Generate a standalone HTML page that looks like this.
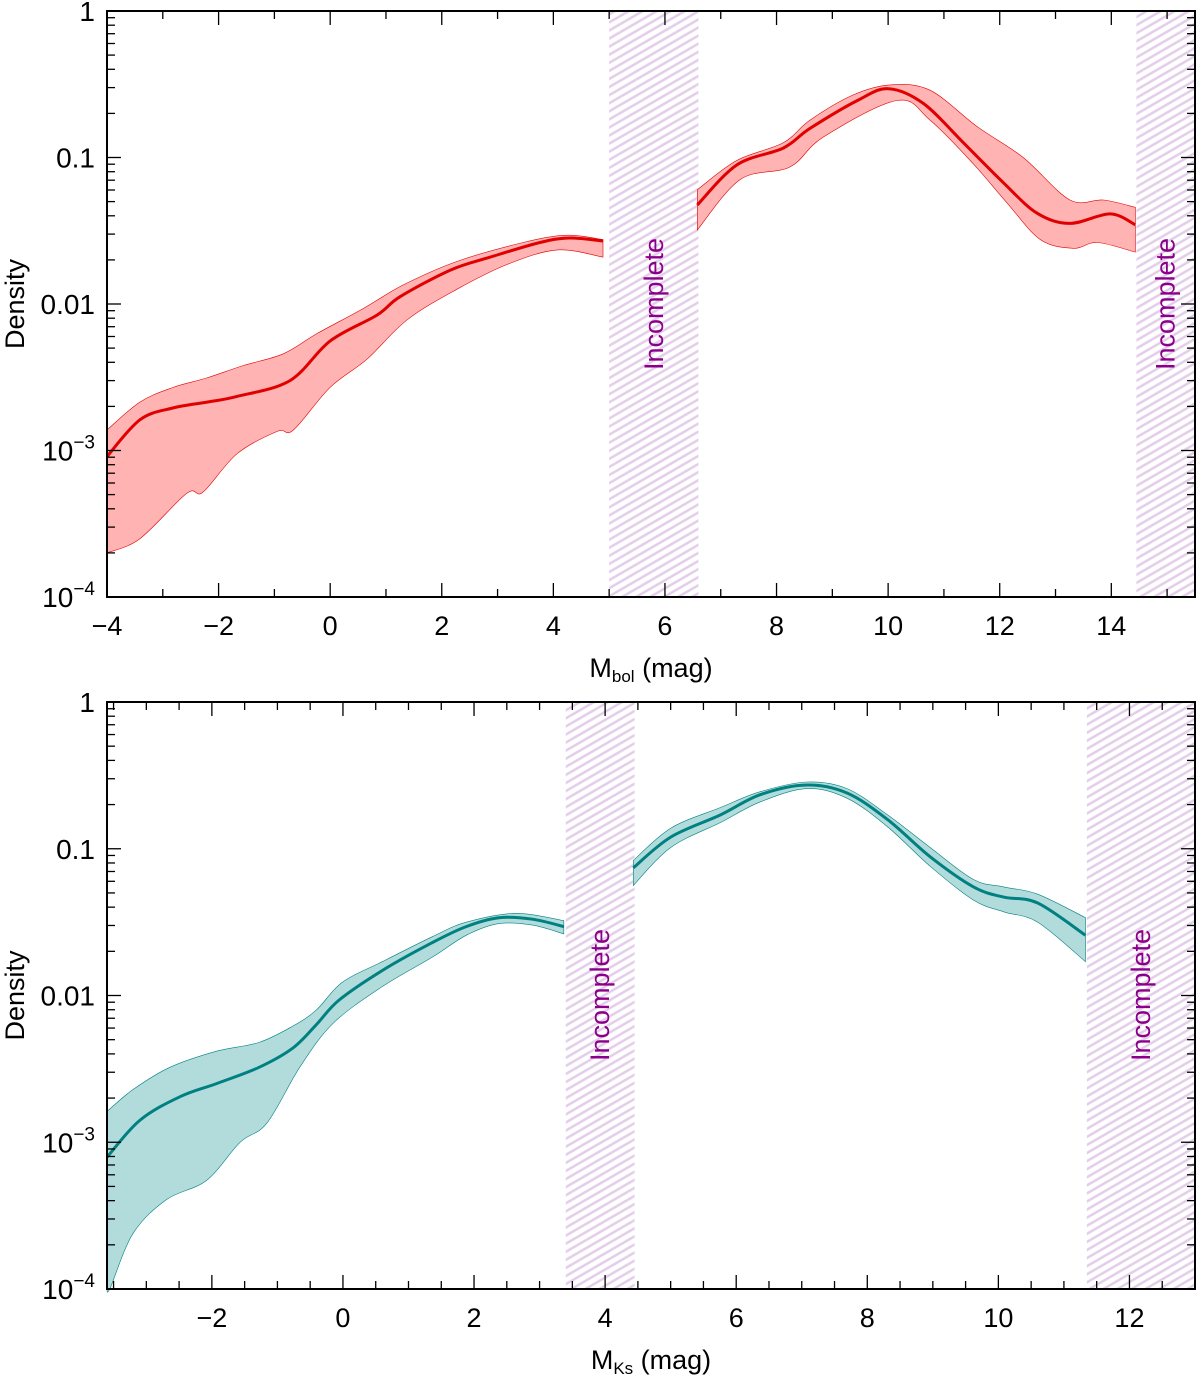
<!DOCTYPE html>
<html><head><meta charset="utf-8"><style>
html,body{margin:0;padding:0;background:#fff;}
svg{display:block;font-family:"Liberation Sans",sans-serif;}
</style></head><body>
<svg id="chart" width="1200" height="1378" viewBox="0 0 1200 1378" xmlns="http://www.w3.org/2000/svg">
<defs>
<pattern id="hatch" patternUnits="userSpaceOnUse" width="7" height="7" patternTransform="rotate(-30)">
<rect width="7" height="7" fill="#fff"/>
<line x1="0" y1="2" x2="7" y2="2" stroke="#e3cdea" stroke-width="2.5"/>
</pattern>
</defs>
</svg>
<script>
// ---------- Top panel data (M_bol) ----------
const topMedX1 = [-4,-3.41,-2.82,-2.21,-1.67,-0.72,0,0.84,1.25,2.15,2.87,3.76,4.3,4.89];
const topMedY1 = [9.1e-4,1.62e-3,1.95e-3,2.14e-3,2.34e-3,3.0e-3,5.6e-3,8.4e-3,0.0112,0.017,0.0209,0.0263,0.0282,0.0269];
const topUpX1 = [-4,-3.41,-2.82,-2.21,-1.56,-0.84,-0.23,0.59,1.31,2.27,3.46,4.25,4.89];
const topUpY1 = [1.38e-3,2.14e-3,2.69e-3,3.13e-3,3.8e-3,4.57e-3,6.3e-3,9.3e-3,0.0135,0.0195,0.0263,0.0295,0.0275];
const topLoX1 = [-4,-3.41,-2.57,-2.28,-1.67,-0.95,-0.66,0,0.66,1.38,2.27,3.17,4.07,4.89];
const topLoY1 = [2.0e-4,2.5e-4,5.1e-4,5.2e-4,9.5e-4,1.35e-3,1.38e-3,2.7e-3,4.2e-3,7.8e-3,0.0126,0.0186,0.0234,0.0209];
const topMedX2 = [6.58,7.29,8.12,8.6,9.45,10.0,10.63,11.35,12.06,12.67,13.26,13.98,14.43];
const topMedY2 = [0.0474,0.089,0.116,0.158,0.245,0.295,0.234,0.126,0.0676,0.0417,0.0355,0.0412,0.0347];
const topUpX2 = [6.58,7.29,8.12,8.6,9.37,10.04,10.75,11.6,12.42,13.26,13.86,14.43];
const topUpY2 = [0.0603,0.0955,0.126,0.18,0.267,0.313,0.288,0.162,0.1,0.0513,0.0513,0.0457];
const topLoX2 = [6.58,7.35,8.24,8.84,10.16,10.75,11.52,12.13,12.73,13.32,13.75,14.43];
const topLoY2 = [0.032,0.0708,0.0861,0.138,0.245,0.18,0.0912,0.049,0.0275,0.024,0.0263,0.0226];
const topIncomplete = [[5.0,6.6],[14.45,15.5]];
const topXTicks = [-4,-2,0,2,4,6,8,10,12,14];
// ---------- Bottom panel data (M_Ks) ----------
const botMedX1 = [-3.6,-3.1,-2.49,-1.93,-1.28,-0.77,-0.41,-0.06,0.6,1.36,1.88,2.38,2.89,3.37];
const botMedY1 = [7.9e-4,1.41e-3,2.04e-3,2.51e-3,3.24e-3,4.37e-3,6.3e-3,9.3e-3,0.0148,0.0229,0.0295,0.0339,0.0331,0.0295];
const botUpX1 = [-3.6,-3.2,-2.64,-1.93,-1.28,-0.77,-0.41,-0.01,0.6,1.36,1.88,2.64,3.37];
const botUpY1 = [1.62e-3,2.29e-3,3.24e-3,4.17e-3,4.79e-3,6.17e-3,7.94e-3,0.0123,0.017,0.0251,0.0316,0.0363,0.0324];
const botLoX1 = [-3.6,-3.55,-3.2,-2.69,-2.08,-1.57,-1.16,-0.66,-0.15,0.6,1.36,1.88,2.38,2.89,3.37];
const botLoY1 = [1.0e-4,1.02e-4,2.4e-4,4.07e-4,5.5e-4,1.0e-3,1.35e-3,3.24e-3,6.46e-3,0.0115,0.0182,0.0257,0.0309,0.0302,0.0263];
const botX2 = [4.43,5.0,5.76,6.37,7.08,7.69,8.31,8.96,9.62,10.08,10.6,11.33];
const botMedY2 = [0.0741,0.12,0.17,0.234,0.272,0.24,0.158,0.0881,0.055,0.0468,0.0427,0.0257];
const botUpY2 = [0.0832,0.138,0.191,0.245,0.285,0.257,0.17,0.102,0.0617,0.055,0.049,0.0339];
const botLoY2 = [0.0562,0.102,0.151,0.209,0.257,0.221,0.141,0.0759,0.0447,0.0372,0.0316,0.017];
const botIncomplete = [[3.4,4.45],[11.35,13.0]];
const botXTicks = [-2,0,2,4,6,8,10,12];
const yTickExps = [0,-1,-2,-3,-4];

const NS = "http://www.w3.org/2000/svg";
const svg = document.getElementById('chart');
function mk(tag, attrs, parent){
  const e = document.createElementNS(NS, tag);
  for (const k in attrs) e.setAttribute(k, attrs[k]);
  (parent||svg).appendChild(e);
  return e;
}
function smoothPath(pts, move){
  let d = (move?'M':'L') + pts[0][0].toFixed(1)+','+pts[0][1].toFixed(1);
  for (let i=0;i<pts.length-1;i++){
    const p0=pts[Math.max(0,i-1)], p1=pts[i], p2=pts[i+1], p3=pts[Math.min(pts.length-1,i+2)];
    const c1=[p1[0]+(p2[0]-p0[0])/6, p1[1]+(p2[1]-p0[1])/6];
    const c2=[p2[0]-(p3[0]-p1[0])/6, p2[1]-(p3[1]-p1[1])/6];
    d += 'C'+c1[0].toFixed(1)+','+c1[1].toFixed(1)+' '+c2[0].toFixed(1)+','+c2[1].toFixed(1)+' '+p2[0].toFixed(1)+','+p2[1].toFixed(1);
  }
  return d;
}

function panel(cfg){
  const L=107, R=1195, T=cfg.top, B=cfg.bottom;
  const sx = v => L + (v - cfg.xmin)/(cfg.xmax - cfg.xmin)*(R-L);
  const sy = v => T + (-Math.log10(v))/4*(B-T);
  const g = mk('g',{});
  
  
  cfg.incomplete.forEach((r,i)=>{
    const x0=sx(r[0]), x1=Math.min(sx(r[1]),R);
    const rc = mk('rect',{x:x0,y:T,width:x1-x0,height:B-T,fill:'url(#hatch)'},g);
    
    
    const cx=(x0+x1)/2, cy=cfg.textY;
    const t = mk('text',{x:cx,y:cy,transform:'rotate(-90 '+cx+' '+cy+')','text-anchor':'middle','dominant-baseline':'central','font-size':27,fill:'#8b008b'},g);
    t.textContent='Incomplete';
    
    
  });
  cfg.segments.forEach((s,i)=>{
    const up = s.upX.map((x,j)=>[sx(x),sy(s.upY[j])]);
    const lo = s.loX.map((x,j)=>[sx(x),sy(s.loY[j])]).reverse();
    const band = mk('path',{d:smoothPath(up,true)+smoothPath(lo,false)+'Z',fill:cfg.fill,stroke:cfg.color,'stroke-width':0.6},g);
    
    
    const med = s.medX.map((x,j)=>[sx(x),sy(s.medY[j])]);
    const ln = mk('path',{d:smoothPath(med,true),fill:'none',stroke:cfg.color,'stroke-width':3},g);
    
    
  });
  const fr = mk('rect',{x:L,y:T,width:R-L,height:B-T,fill:'none',stroke:'#000','stroke-width':2},g);
  
  
  for (let v=Math.ceil(cfg.xmin/cfg.minorStep)*cfg.minorStep; v<=cfg.xmax+1e-9; v+=cfg.minorStep){
    const major = Math.abs(v/2 - Math.round(v/2))<1e-6;
    const len = major?14:8, x=sx(v);
    mk('line',{x1:x,y1:B,x2:x,y2:B-len,stroke:'#000','stroke-width':1.3},g);
    mk('line',{x1:x,y1:T,x2:x,y2:T+len,stroke:'#000','stroke-width':1.3},g);
  }
  cfg.xTicks.forEach(v=>{
    const t = mk('text',{x:sx(v),y:B+38,'text-anchor':'middle','font-size':27,fill:'#000'},g);
    t.textContent = v<0 ? '\u2212'+(-v) : String(v);
    
    
  });
  for (let e=-4;e<0;e++){
    for (let m=1;m<10;m++){
      const y=sy(m*Math.pow(10,e)); const len = m===1?14:8;
      mk('line',{x1:L,y1:y,x2:L+len,y2:y,stroke:'#000','stroke-width':1.3},g);
      mk('line',{x1:R,y1:y,x2:R-len,y2:y,stroke:'#000','stroke-width':1.3},g);
    }
  }
  yTickExps.forEach(e=>{
    const y=sy(Math.pow(10,e));
    const t = mk('text',{x:L-12,y:y+10,'text-anchor':'end','font-size':28,fill:'#000'},g);
    if (e>=-2) t.textContent = e===0?'1':(e===-1?'0.1':'0.01');
    else {
      const a = mk('tspan',{},t); a.textContent='10';
      const b = mk('tspan',{dy:-12,'font-size':19},t); b.textContent='\u2212'+(-e);
    }
    
    
  });
  const yt = mk('text',{x:24,y:(T+B)/2,transform:'rotate(-90 24 '+((T+B)/2)+')','text-anchor':'middle','font-size':27,fill:'#000'},g);
  yt.textContent='Density';
  
  
  const xt = mk('text',{x:651,y:B+80,'text-anchor':'middle','font-size':27,fill:'#000'},g);
  const t1=mk('tspan',{},xt); t1.textContent='M';
  const t2=mk('tspan',{'font-size':17,dy:5},xt); t2.textContent=cfg.sub;
  const t3=mk('tspan',{dy:-5},xt); t3.textContent=' (mag)';
  
  
}

panel({name:'mbol-panel', top:11, bottom:597, xmin:-4, xmax:15.5, minorStep:1, sub:'bol',
  xTicks:topXTicks, incomplete:topIncomplete, textY:304, color:'#e00000', fill:'#ffb3b3',
  segments:[{medX:topMedX1,medY:topMedY1,upX:topUpX1,upY:topUpY1,loX:topLoX1,loY:topLoY1},
            {medX:topMedX2,medY:topMedY2,upX:topUpX2,upY:topUpY2,loX:topLoX2,loY:topLoY2}]});
panel({name:'mks-panel', top:702, bottom:1289, xmin:-3.6, xmax:13.0, minorStep:0.5, sub:'Ks',
  xTicks:botXTicks, incomplete:botIncomplete, textY:995, color:'#008080', fill:'#b2dcdc',
  segments:[{medX:botMedX1,medY:botMedY1,upX:botUpX1,upY:botUpY1,loX:botLoX1,loY:botLoY1},
            {medX:botX2,medY:botMedY2,upX:botX2,upY:botUpY2,loX:botX2,loY:botLoY2}]});
</script>
</body></html>
